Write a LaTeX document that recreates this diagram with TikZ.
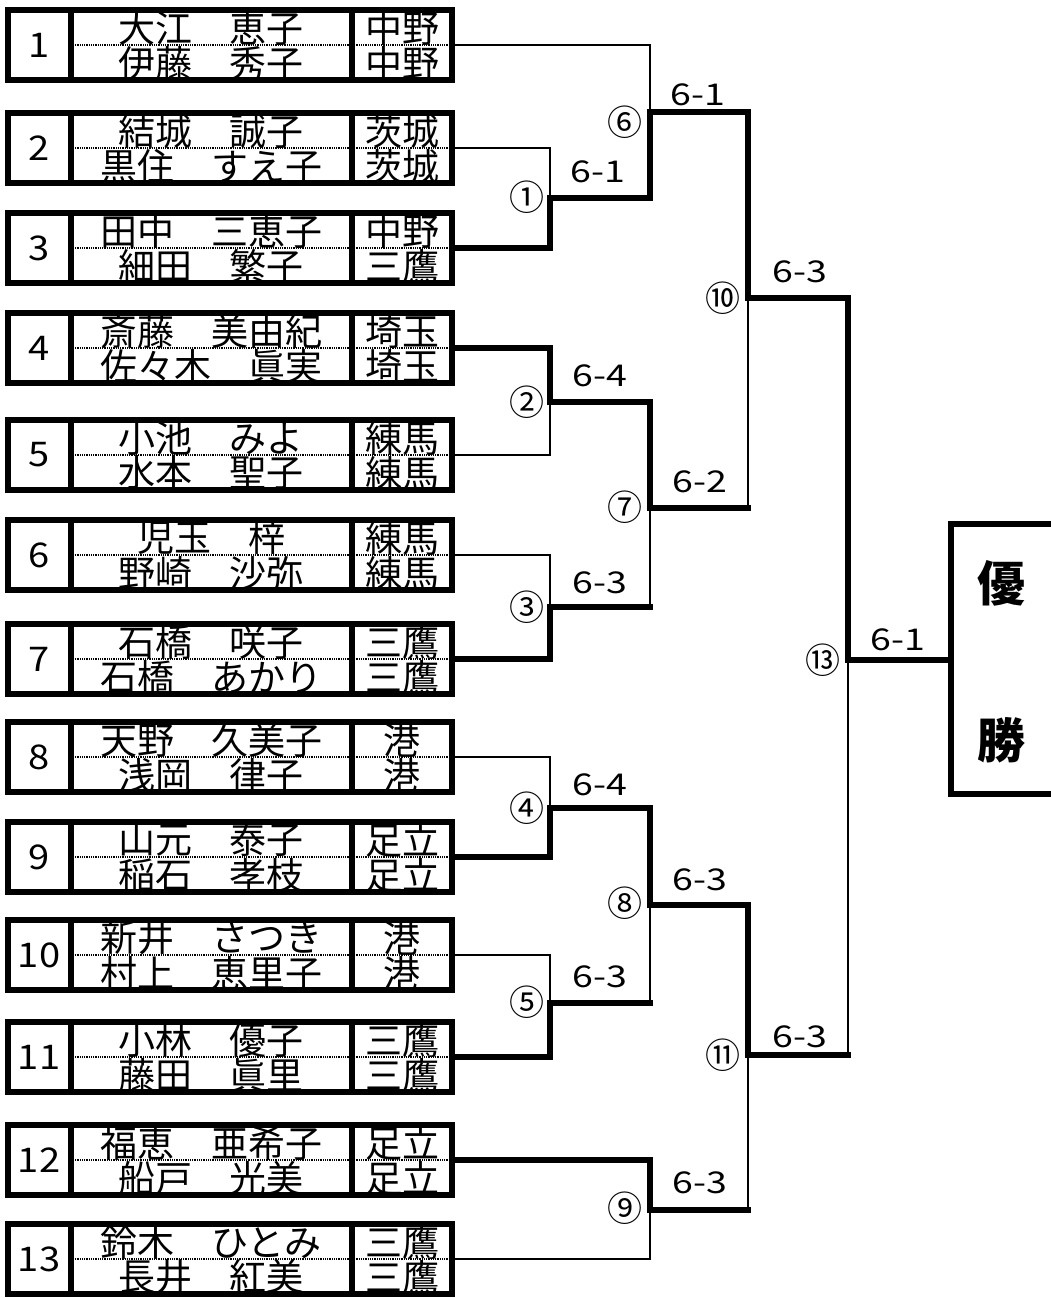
\documentclass[tikz,border=0pt]{standalone}
\usepackage{fontspec}
\setmainfont{Noto Sans CJK JP}
\begin{document}
\begin{tikzpicture}[x=1pt,y=-1pt,
  thinln/.style={line width=2.5pt,line join=miter,line cap=rect},
  thickln/.style={line width=5.5pt,line join=miter,line cap=rect},
  frame/.style={line width=6pt,line join=miter},
  dotln/.style={line width=1.8pt,dash pattern=on 1pt off 0.8pt},
  namefont/.style={inner sep=0pt,font=\fontsize{37}{37}\selectfont},
  numfont/.style={inner sep=0pt,font=\fontsize{34}{34}\selectfont},
  scorefont/.style={inner sep=0pt,font=\fontsize{30}{30}\selectfont},
  circfont/.style={inner sep=0pt,font=\fontsize{35}{35}\selectfont},
  winfont/.style={inner sep=0pt,font=\fontsize{48}{48}\selectfont\bfseries}]
\useasboundingbox (0,0) rectangle (1051,1298);
\fill[white] (0,0) rectangle (1051,1298);

% entry boxes
\foreach \n/\m/\a/\b/\c/\d in {
  1/45/大江　恵子/伊藤　秀子/中野/中野,
  2/148/結城　誠子/黒住　すえ子/茨城/茨城,
  3/248/田中　三恵子/細田　繁子/中野/三鷹,
  4/348/斎藤　美由紀/佐々木　眞実/埼玉/埼玉,
  5/455/小池　みよ/水本　聖子/練馬/練馬,
  6/555/児玉　梓/野崎　沙弥/練馬/練馬,
  7/659/石橋　咲子/石橋　あかり/三鷹/三鷹,
  8/757/天野　久美子/浅岡　律子/港/港,
  9/857/山元　泰子/稲石　孝枝/足立/足立,
  10/955/新井　さつき/村上　恵里子/港/港,
  11/1057/小林　優子/藤田　眞里/三鷹/三鷹,
  12/1160/福恵　亜希子/船戸　光美/足立/足立,
  13/1259/鈴木　ひとみ/長井　紅美/三鷹/三鷹}{
  \begin{scope}
    \clip (73,\m-35) rectangle (349,\m+35);
    \node[namefont] (na\n) at (211,\m-17) {\a};
    \node[namefont] (nb\n) at (211,\m+18) {\b};
  \end{scope}
  \begin{scope}
    \clip (354,\m-35) rectangle (449,\m+35);
    \node[namefont] (ta\n) at (402,\m-17) {\c};
    \node[namefont] (tb\n) at (402,\m+18) {\d};
  \end{scope}
  \node[numfont] (num\n) at (39,\m) {\scalebox{1.12}[1]{\n}};
  \draw[dotln] (73,\m) -- (449,\m);
  \draw[frame] (8,\m-35) rectangle (452,\m+35);
  \draw[frame] (70.5,\m-35) -- (70.5,\m+35);
  \draw[frame] (351.5,\m-35) -- (351.5,\m+35);
  \coordinate (e\n) at (455,\m);
}

% match junctions
\coordinate (m1) at (550,198);
\coordinate (m2) at (550,402);
\coordinate (m3) at (550,607);
\coordinate (m4) at (550,808);
\coordinate (m5) at (550,1003);
\coordinate (m6) at (650,112);
\coordinate (m7) at (650,508);
\coordinate (m8) at (650,905);
\coordinate (m9) at (650,1210);
\coordinate (m10) at (748,298);
\coordinate (m11) at (748,1055);
\coordinate (m13) at (848,660);
\coordinate (fin) at (948,660);

% losing paths (thin)
\draw[thinln] (e1) -| (m6);
\draw[thinln] (e2) -| (m1);
\draw[thinln] (e5) -| (m2);
\draw[thinln] (e6) -| (m3);
\draw[thinln] (e8) -| (m4);
\draw[thinln] (e10) -| (m5);
\draw[thinln] (e13) -| (m9);
\draw[thinln] (m3 -| m7) -- (m7);
\draw[thinln] (m5 -| m8) -- (m8);
\draw[thinln] (m7 -| m10) -- (m10);
\draw[thinln] (m9 -| m11) -- (m11);
\draw[thinln] (m11 -| m13) -- (m13);

% winning paths (thick)
\draw[thickln] (e3) -| (m1) -| (m6) -| (m10) -| (m13) -- (fin);
\draw[thickln] (e4) -| (m2) -| (m7);
\draw[thickln] (e7) -| (m3) -- (m3 -| m7);
\draw[thickln] (m7) -- (m7 -| m10);
\draw[thickln] (e9) -| (m4) -| (m8) -| (m11);
\draw[thickln] (e11) -| (m5) -- (m5 -| m8);
\draw[thickln] (e12) -| (m9) -- (m9 -| m11);
\draw[thickln] (m11) -- (m11 -| m13);

% scores
\foreach \k/\px/\py/\s in {1/598/172/6-1, 2/600/376/6-4, 3/600/583/6-3,
  4/600/785/6-4, 5/600/977/6-3, 6/698/95/6-1, 7/700/482/6-2,
  8/700/880/6-3, 9/700/1183/6-3, 10/800/272/6-3, 11/800/1037/6-3,
  13/898/640/6-1}{
  \node[scorefont] (s\k) at (\px,\py) {\scalebox{1.25}[1]{\s}};
}
% match numbers
\foreach \k/\px/\py/\s in {1/527/197/①, 2/527/402/②, 3/527/607/③,
  4/527/808/④, 5/527/1002/⑤, 6/625/122/⑥, 7/625/507/⑦,
  8/625/903/⑧, 9/625/1208/⑨, 10/723/298/⑩, 11/723/1055/⑪,
  13/823/660/⑬}{
  \node[circfont] (c\k) at (\px,\py) {\s};
}

% champion box
\coordinate (wt) at (1060,524);
\coordinate (wb) at (1060,794);
\draw[frame] (wt) -- (951,524) -- (951,794) -- (wb);
\node[winfont] (yu) at (1001,583) {優};
\node[winfont] (sho) at (1001,740) {勝};
\end{tikzpicture}
\end{document}
